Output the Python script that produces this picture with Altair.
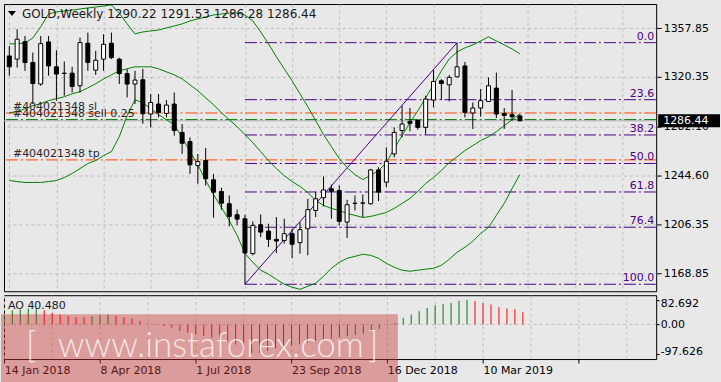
import json
import altair as alt
import pandas as pd

# ---------------- data ----------------
x_labels = ["14 Jan 2018", "8 Apr 2018", "1 Jul 2018", "23 Sep 2018", "16 Dec 2018", "10 Mar 2019"]
price_ticks = [1357.85, 1320.35, 1282.10, 1244.60, 1206.35, 1168.85]
ao_ticks = [82.692, 0.0, -97.626]

opens = [1336.5, 1334.0, 1347.5, 1331.4, 1314.8, 1347.3, 1328.1, 1323.2, 1323.2, 1313.5,
         1346.3, 1325.5, 1334.0, 1346.3, 1334.0, 1322.9, 1314.8, 1318.1, 1291.7, 1299.4,
         1292.2, 1299.4, 1277.5, 1270.4, 1251.9, 1255.8, 1240.9, 1231.9, 1222.5, 1214.0,
         1210.9, 1184.0, 1206.3, 1201.4, 1195.0, 1194.2, 1199.4, 1192.5, 1203.2, 1217.3,
         1227.1, 1234.0, 1232.7, 1208.3, 1222.9, 1222.9, 1222.5, 1248.6, 1239.1, 1260.9,
         1278.9, 1286.0, 1287.1, 1281.4, 1302.5, 1317.3, 1314.2, 1320.4, 1328.8, 1292.5,
         1296.3, 1301.4, 1311.7, 1292.2, 1291.2, 1290.22]
highs = [1344.2, 1357.1, 1351.9, 1339.1, 1351.9, 1351.9, 1340.9, 1332.2, 1328.1, 1350.6,
         1354.5, 1340.4, 1353.2, 1354.5, 1335.2, 1326.3, 1325.0, 1326.5, 1307.1, 1307.1,
         1302.5, 1308.3, 1284.0, 1273.7, 1260.9, 1265.5, 1245.5, 1234.8, 1228.9, 1218.1,
         1214.0, 1208.9, 1214.2, 1207.1, 1212.2, 1210.9, 1203.2, 1208.3, 1226.3, 1231.4,
         1243.5, 1237.3, 1236.5, 1225.5, 1228.9, 1229.6, 1249.4, 1250.6, 1266.0, 1281.4,
         1298.1, 1296.3, 1287.1, 1305.8, 1325.5, 1318.6, 1321.9, 1346.73, 1331.9, 1300.6,
         1310.9, 1319.9, 1323.7, 1296.3, 1310.2, 1291.53]
lows = [1321.2, 1327.5, 1325.0, 1299.4, 1313.5, 1321.2, 1302.0, 1305.8, 1308.3, 1308.3,
        1325.0, 1321.9, 1325.0, 1334.0, 1314.8, 1304.5, 1299.4, 1284.2, 1281.4, 1289.1,
        1289.1, 1275.0, 1260.9, 1245.5, 1237.9, 1236.5, 1211.7, 1217.9, 1205.0, 1205.8,
        1160.37, 1182.7, 1196.8, 1189.1, 1184.5, 1191.7, 1180.6, 1184.0, 1182.7, 1212.2,
        1220.4, 1210.9, 1205.8, 1196.0, 1217.3, 1212.2, 1221.7, 1224.5, 1235.2, 1258.3,
        1273.7, 1278.3, 1279.6, 1275.8, 1296.8, 1302.5, 1301.4, 1319.9, 1289.1, 1280.2,
        1289.6, 1301.2, 1288.6, 1280.2, 1286.5, 1286.28]
closes = [1328.1, 1349.4, 1331.4, 1315.2, 1346.0, 1328.8, 1322.5, 1323.0, 1312.9, 1346.8,
          1331.4, 1333.2, 1345.5, 1335.2, 1322.9, 1314.8, 1317.9, 1291.9, 1300.6, 1292.9,
          1298.6, 1278.9, 1269.1, 1252.5, 1255.0, 1241.7, 1231.4, 1222.9, 1212.7, 1210.6,
          1184.5, 1205.8, 1200.6, 1195.0, 1193.7, 1199.4, 1191.2, 1202.5, 1217.9, 1226.3,
          1233.2, 1232.2, 1208.9, 1221.7, 1222.7, 1223.1, 1248.6, 1231.4, 1255.2, 1277.5,
          1284.0, 1284.5, 1281.4, 1303.2, 1316.8, 1315.2, 1319.9, 1328.1, 1292.9, 1296.3,
          1302.0, 1313.5, 1291.7, 1290.6, 1289.6, 1286.44]

bb_upper = [1345.8, 1345.8, 1346.5, 1350.4, 1358.9, 1368.9, 1370.4, 1371.2, 1371.9, 1372.7,
            1373.5, 1374.2, 1375.0, 1375.8, 1369.6, 1361.2, 1353.5, 1355.0, 1355.8, 1356.5,
            1358.1, 1359.6, 1361.2, 1363.5, 1365.0, 1366.5, 1368.1, 1368.9, 1369.6, 1369.6,
            1368.1, 1363.5, 1355.0, 1345.8, 1335.8, 1326.6, 1317.3, 1307.3, 1297.3, 1286.6,
            1275.8, 1266.6, 1257.3, 1250.4, 1245.0, 1241.2, 1244.3, 1248.1, 1254.2, 1265.0,
            1275.0, 1285.0, 1294.2, 1304.2, 1314.2, 1325.0, 1334.2, 1339.6, 1342.7, 1345.0,
            1348.1, 1351.2, 1348.1, 1345.0, 1341.9, 1338.1]
bb_middle = [1292.7, 1293.5, 1295.8, 1298.1, 1299.6, 1302.0, 1303.5, 1305.0, 1307.3, 1308.9,
             1311.9, 1315.0, 1318.8, 1321.9, 1325.0, 1326.6, 1328.1, 1328.1, 1328.1, 1326.6,
             1324.2, 1321.9, 1318.8, 1314.2, 1309.6, 1304.2, 1298.9, 1292.7, 1287.3, 1281.9,
             1275.8, 1269.6, 1262.7, 1255.8, 1249.6, 1244.2, 1239.6, 1235.8, 1231.2, 1225.0,
             1221.2, 1218.9, 1217.3, 1215.0, 1213.5, 1211.9, 1212.7, 1214.2, 1215.8, 1218.9,
             1222.7, 1226.6, 1232.0, 1238.1, 1242.7, 1248.1, 1254.2, 1258.8, 1263.5, 1267.3,
             1271.2, 1274.2, 1278.1, 1282.7, 1287.3, 1292.0]
bb_lower = [1240.4, 1239.6, 1238.9, 1238.9, 1238.9, 1239.6, 1240.4, 1242.7, 1245.8, 1249.6,
            1253.5, 1255.8, 1259.6, 1262.7, 1274.2, 1290.4, 1302.7, 1300.4, 1295.8, 1291.2,
            1287.3, 1283.5, 1273.5, 1262.7, 1252.7, 1240.4, 1229.6, 1219.6, 1209.6, 1198.1,
            1184.2, 1177.3, 1171.2, 1168.1, 1164.2, 1160.4, 1158.1, 1156.5, 1158.8, 1161.2,
            1166.5, 1172.7, 1177.3, 1180.4, 1181.9, 1183.5, 1182.7, 1180.4, 1176.5, 1173.5,
            1171.2, 1170.4, 1171.2, 1172.0, 1172.7, 1175.0, 1179.6, 1185.0, 1188.9, 1193.5,
            1199.6, 1204.2, 1213.5, 1222.7, 1234.2, 1245.0]

ao_values = [33, 47, 50, 53, 55, 47, 39, 33, 28, 24,
             23.5, 26.7, 30, 33, 29, 24, 20, 11, 3, -2.4,
             -5.6, -11, -22, -28, -33, -39, -44, -50, -56, -67,
             -95, -97.626, -94, -88, -80, -74, -70, -66, -61, -56,
             -51, -47, -43, -39, -35, -31, -25, -15, -3, 5.3,
             22, 33.3, 44.3, 55.3, 64.3, 68.7, 72, 79.3, 82.692, 77.7,
             71, 66.7, 57.7, 53.3, 51, 40.48]

fib_low = 1160.37
fib_high = 1346.73
fib_low_idx = 30
fib_high_idx = 57
fib_levels = [0.0, 23.6, 38.2, 50.0, 61.8, 76.4, 100.0]

order_names = ["#404021348 sl", "#404021348 sell 0.25", "#404021348 tp"]
order_prices = [1292.5, 1287.4, 1256.3]
order_colors = ["#ff4500", "#0a7a0a", "#ff4500"]

title_text = "GOLD,Weekly  1290.22 1291.53 1286.28 1286.44"
ao_text = "AO 40.480"
wm_texts = ["[", "www.instaforex.com", "]"]

# ---------------- styling ----------------
BG = "#e8e8e8"
GRID = "#bdbdbd"
PURPLE = "#4b0082"
GREEN = "#008000"
RED = "#ff0000"
FONT = "DejaVu Sans"
DASHDOT = [12, 3, 2, 3]

W, H, HA = 654, 288, 64

n = len(opens)
df = pd.DataFrame({
    "i": list(range(n)), "o": opens, "h": highs, "l": lows, "c": closes,
    "up": bb_upper, "mid": bb_middle, "lo": bb_lower, "ao": ao_values,
})
df["ao_up"] = df["ao"].diff().fillna(1.0) > 0

xs = alt.Scale(domain=[-0.04, 81.71], nice=False, zero=False)
ys = alt.Scale(domain=[1155.0, 1376.54], nice=False, zero=False)
aos = alt.Scale(domain=[-115.7, 97.7], nice=False, zero=False)
grid_vals = list(range(0, 82, 6))

x_axis_main = alt.Axis(values=grid_vals, grid=True, gridColor=GRID, gridDash=[3, 3],
                       labels=False, ticks=False, domain=False, title=None)
y_axis_main = alt.Axis(values=price_ticks, orient="right", format=".2f", grid=True,
                       gridColor=GRID, gridDash=[3, 3], tickSize=5, tickColor="black",
                       labelPadding=2, domain=False, title=None, labelOverlap=False,
                       labelBound=False)


def XM(f):
    return alt.X(f, type="quantitative", scale=xs, axis=x_axis_main)


def YM(f):
    return alt.Y(f, type="quantitative", scale=ys, axis=y_axis_main)


base = alt.Chart(df)

bid_df = pd.DataFrame({"p": [closes[-1]], "t": [f"{closes[-1]:.2f}"]})
bid_line = alt.Chart(bid_df).mark_rule(color="#b0b0b0", strokeWidth=1).encode(y=YM("p"))

orders_df = pd.DataFrame({"name": order_names, "price": order_prices, "col": order_colors})
order_lines = alt.Chart(orders_df).mark_rule(strokeDash=DASHDOT, strokeWidth=1).encode(
    y=YM("price"), color=alt.Color("col:N", scale=None))
order_texts = alt.Chart(orders_df).mark_text(align="left", baseline="alphabetic", dy=-3,
                                             color="#2a2a2a").encode(
    x=alt.value(9), y=YM("price"), text="name")

fib_df = pd.DataFrame({
    "lvl": fib_levels,
    "p": [fib_high - (fib_high - fib_low) * v / 100.0 for v in fib_levels],
    "start": [fib_low_idx] * len(fib_levels),
    "label": [f"{v:.1f}" for v in fib_levels],
})
fib_rules = alt.Chart(fib_df).mark_rule(color=PURPLE, strokeDash=DASHDOT, strokeWidth=1).encode(
    x=XM("start"), x2=alt.value(W), y=YM("p"))
fib_text = alt.Chart(fib_df).mark_text(align="right", baseline="alphabetic", dy=-3,
                                       color=PURPLE).encode(
    x=alt.value(652), y=YM("p"), text="label")

trend_df = pd.DataFrame({"i1": [fib_low_idx], "i2": [fib_high_idx], "p1": [fib_low], "p2": [fib_high]})
trend = alt.Chart(trend_df).mark_rule(color=PURPLE, strokeWidth=1).encode(
    x=XM("i1"), x2="i2", y=YM("p1"), y2="p2")

bands = base.transform_fold(["up", "mid", "lo"], as_=["band", "val"]).mark_line(
    color=GREEN, strokeWidth=1, clip=True).encode(x=XM("i"), y=YM("val"), detail="band:N")

wicks = base.mark_rule(color="black", strokeWidth=1, clip=True).encode(
    x=XM("i"), y=YM("l"), y2="h")
bodies = base.mark_bar(width=4, stroke="black", strokeWidth=1, clip=True).encode(
    x=XM("i"), y=YM("o"), y2="c",
    fill=alt.condition("datum.c > datum.o", alt.value("white"), alt.value("black")))

title = alt.Chart(pd.DataFrame({"t": [title_text]})).mark_text(
    align="left", baseline="middle", fontSize=12, color="#1a1a1a").encode(
    x=alt.value(18), y=alt.value(10), text="t")
tri = alt.Chart(pd.DataFrame({"t": [0]})).mark_point(
    shape="M-1,-0.6L1,-0.6L0,0.6Z", filled=True, color="black", opacity=1, size=64).encode(
    x=alt.value(8), y=alt.value(9.5))

box = alt.Chart(bid_df).transform_calculate(top="datum.p + 5", bot="datum.p - 5").mark_rect(
    color="black", clip=False).encode(
    x=alt.value(656), x2=alt.value(718), y=YM("top"), y2="bot")
box_text = alt.Chart(bid_df).mark_text(align="left", baseline="middle", color="white").encode(
    x=alt.value(661), y=YM("p"), text="t")

main = alt.layer(bid_line, order_lines, fib_rules, fib_text, trend, bands, wicks, bodies,
                 order_texts, title, tri, box, box_text).properties(width=W, height=H)

# ---------------- AO panel ----------------
label_expr = "datum.value % 12 == 0 ? " + json.dumps(x_labels) + "[datum.value / 12] : ''"
x_axis_ao = alt.Axis(values=grid_vals, grid=True, gridColor=GRID, gridDash=[3, 3], domain=False,
                     tickSize=4, tickColor="black",
                     tickOpacity={"condition": {"test": "datum.value % 12 == 0", "value": 1}, "value": 0},
                     labelExpr=label_expr, labelAlign="left", labelPadding=2,
                     labelOverlap=False, labelBound=False, labelFlush=False, title=None)
y_axis_ao = alt.Axis(values=ao_ticks, orient="right",
                     labelExpr="datum.value == 0 ? '0.00' : '' + datum.value",
                     grid=False, tickSize=3, tickColor="black", labelPadding=1,
                     labelOffset={"condition": [{"test": "datum.value > 1", "value": 4},
                                                {"test": "datum.value < -1", "value": -2}],
                                  "value": 0},
                     domain=False, title=None, labelOverlap=False, labelBound=False)


def XA(f):
    return alt.X(f, type="quantitative", scale=xs, axis=x_axis_ao)


def YA(f):
    return alt.Y(f, type="quantitative", scale=aos, axis=y_axis_ao)


zero_line = alt.Chart(pd.DataFrame({"z": [0.0]})).mark_rule(
    color=GRID, strokeDash=[3, 3]).encode(y=YA("z"))
ao_bars = alt.Chart(df).transform_calculate(zero="0").mark_rule(strokeWidth=1, clip=True).encode(
    x=XA("i"), y=YA("ao"), y2="zero:Q",
    color=alt.condition("datum.ao_up", alt.value(GREEN), alt.value(RED)))
ao_label = alt.Chart(pd.DataFrame({"t": [ao_text]})).mark_text(
    align="left", baseline="middle", color="#1a1a1a").encode(
    x=alt.value(4), y=alt.value(11), text="t")

wm_rect = alt.Chart(pd.DataFrame({"t": [0]})).mark_rect(
    color="#c83232", opacity=0.42, clip=False).encode(
    x=alt.value(-3), x2=alt.value(395), y=alt.value(19), y2=alt.value(88))
wm_df = pd.DataFrame({"t": wm_texts, "xp": [22, 54, 365]})
wm_text = alt.Chart(wm_df).mark_text(
    align="left", baseline="alphabetic", font="Lato", fontSize=35, fontWeight=300,
    color="white", opacity=0.75, clip=False).encode(
    x=alt.X("xp:Q", scale=None), y=alt.value(62), text="t")

ao = alt.layer(zero_line, ao_bars, ao_label, wm_rect, wm_text).properties(width=W, height=HA)

chart = alt.vconcat(main, ao, spacing=2).properties(
    padding={"left": 0, "top": 2.5, "right": 0, "bottom": 0},
    background=BG,
).configure_view(stroke="black", strokeWidth=1).configure_axis(
    labelFont=FONT, labelFontSize=11, labelColor="black"
).configure_text(font=FONT, fontSize=11)

chart.save("out.html", embed_options={"renderer": "svg", "actions": False})
